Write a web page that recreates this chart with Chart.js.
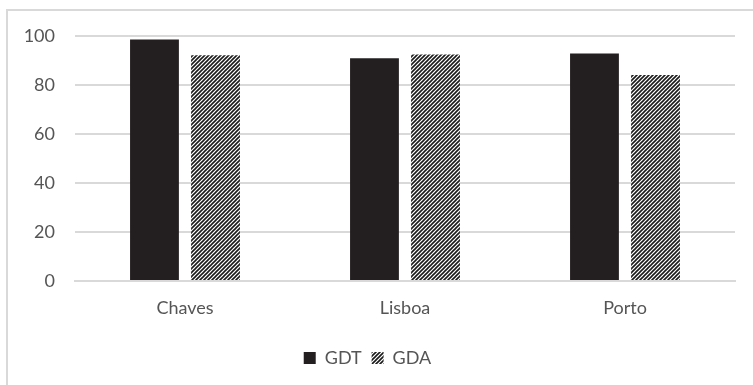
<!DOCTYPE html>
<html>
<head>
<meta charset="utf-8">
<script src="https://cdn.jsdelivr.net/npm/chart.js@4"></script>
<style>
  html, body { margin: 0; padding: 0; background: #fff; overflow: hidden; }
  #frame { position: absolute; left: 6px; top: 9px; width: 760px; height: 390px;
           border-left: 2px solid #d9d9d9; border-top: 2px solid #d9d9d9; }
  #wrap { position: absolute; left: 0; top: 0; width: 753px; height: 385px; }
</style>
</head>
<body>
<div id="frame"></div>
<div id="wrap"><canvas id="chart" width="753" height="385"></canvas></div>
<script>
const categories = ['Chaves', 'Lisboa', 'Porto'];
const gdtValues = [98.6, 90.9, 92.9];
const gdaValues = [92.1, 92.5, 84.1];
const yTicks = [0, 20, 40, 60, 80, 100];

// diagonal hatch for GDA
function makeHatch() {
    const c = document.createElement('canvas');
    c.width = 4; c.height = 4;
    const g = c.getContext('2d');
    g.fillStyle = '#ffffff';
    g.fillRect(0, 0, 4, 4);
    g.strokeStyle = '#1a1a1a';
    g.lineWidth = 1.6;
    g.beginPath();
    g.moveTo(-1, 5); g.lineTo(5, -1);
    g.moveTo(-1, 1); g.lineTo(1, -1);
    g.moveTo(3, 5); g.lineTo(5, 3);
    g.stroke();
    return g.createPattern(c, 'repeat');
}

const ctx = document.getElementById('chart').getContext('2d');
const hatch = makeHatch();
const textColor = '#555555';
const fontFamily = 'Lato, "Open Sans", sans-serif';

new Chart(ctx, {
    type: 'bar',
    data: {
        labels: categories,
        datasets: [
            { label: 'GDT', data: gdtValues, backgroundColor: '#231f20', borderColor: '#231f20', borderWidth: 0 },
            { label: 'GDA', data: gdaValues, backgroundColor: hatch, borderColor: '#231f20', borderWidth: 0 }
        ]
    },
    options: {
        responsive: false,
        animation: false,
        categoryPercentage: 0.555,
        barPercentage: 0.8,
        layout: { padding: { top: 36, right: 18, bottom: 8, left: 0 } },
        plugins: {
            tooltip: { enabled: false },
            legend: {
                position: 'bottom',
                labels: {
                    color: textColor,
                    font: { family: fontFamily, size: 18 },
                    boxWidth: 12,
                    boxHeight: 12,
                    padding: 10
                }
            }
        },
        scales: {
            x: {
                grid: { display: false },
                border: { display: true, color: '#d9d9d9', width: 2 },
                ticks: { color: textColor, font: { family: fontFamily, size: 18 }, padding: 8 },
                afterFit: s => { s.height = 58; }
            },
            y: {
                min: 0,
                max: 100,
                afterBuildTicks: s => { s.ticks = yTicks.map(v => ({ value: v })); },
                grid: { color: '#d9d9d9', lineWidth: 2, drawTicks: false },
                border: { display: false },
                ticks: { color: textColor, font: { family: fontFamily, size: 18 }, padding: 20 },
                afterFit: s => { s.width = 75; }
            }
        }
    }
});
</script>
</body>
</html>
